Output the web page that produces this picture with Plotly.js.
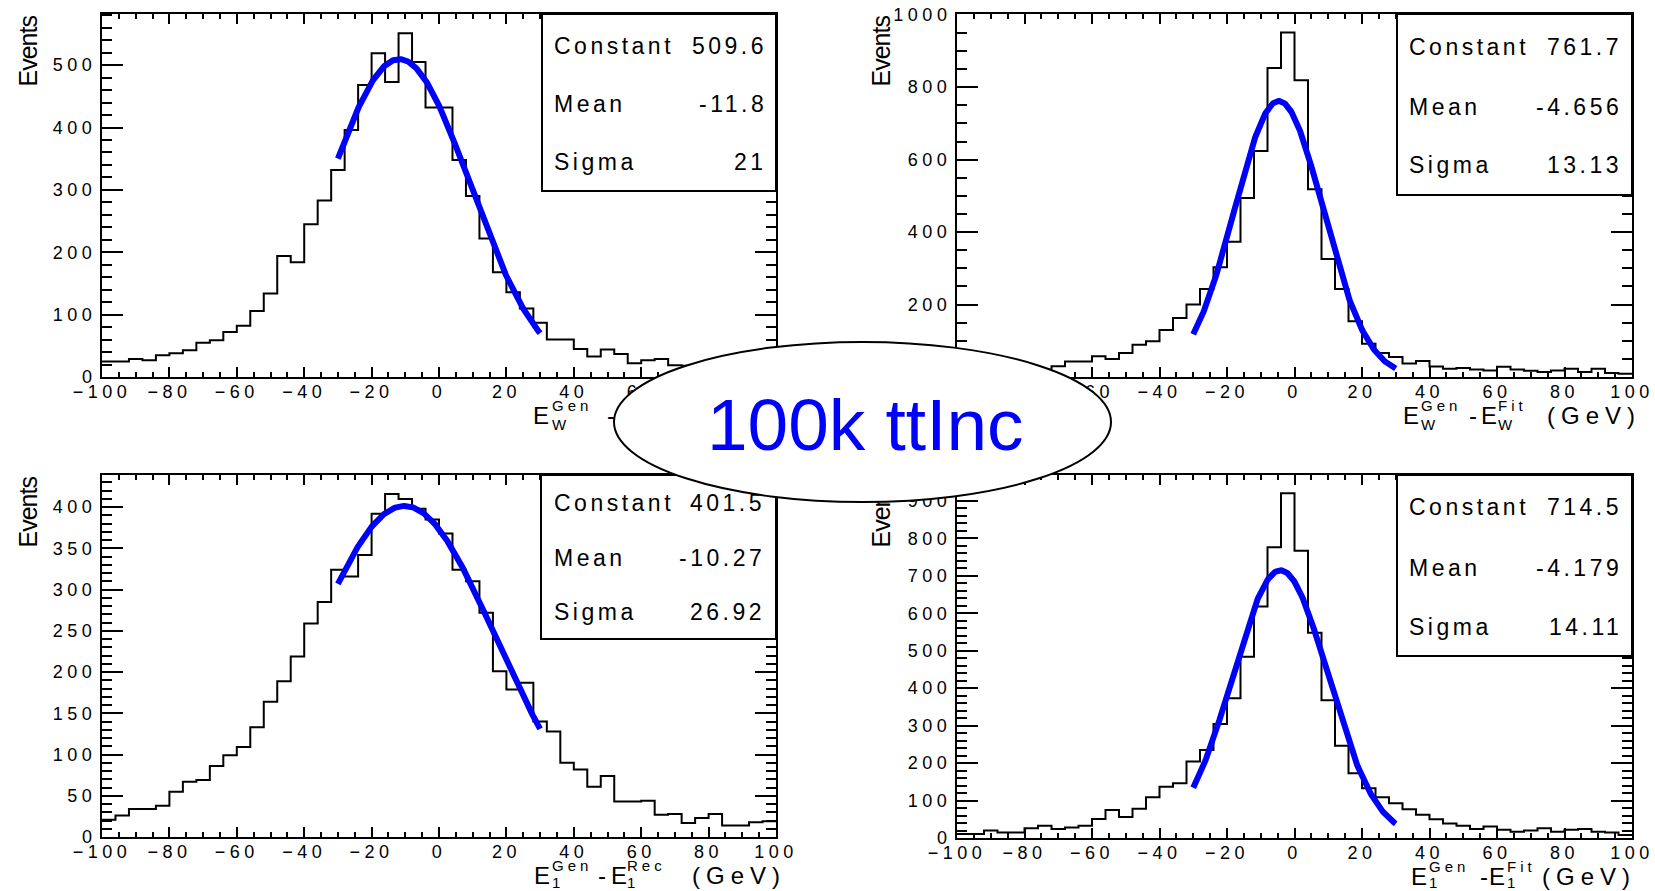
<!DOCTYPE html>
<html>
<head>
<meta charset="utf-8">
<script src="https://cdn.plot.ly/plotly-3.0.1.min.js"></script>
<style>
  html, body { margin: 0; padding: 0; background: #fff; }
  #wrap { position: relative; width: 1655px; height: 891px; overflow: hidden; }
  #main, #badge { position: absolute; left: 0; top: 0; width: 1655px; height: 891px; }
  #badge { pointer-events: none; }
  #main .xaxislayer-above text, #main .yaxislayer-above text { letter-spacing: 4.5px; }
</style>
</head>
<body>
<div id="wrap"><div id="main"></div><div id="badge"></div></div>
<script>
// Binning shared by all four resolution histograms (GeV)
const BIN_LOW = -100;
const BIN_WIDTH = 4;

// Bin contents, 50 bins from -100 to 100 GeV
const countsWRec = [25, 25, 29, 27, 35, 38, 43, 55, 59, 72,
                    82, 106, 134, 194, 184, 245, 283, 332, 396, 468,
                    519, 473, 551, 505, 432, 432, 348, 290, 222, 168,
                    136, 110, 87, 60, 60, 45, 33, 44, 37, 22,
                    27, 29, 19, 18, 16, 15, 13, 14, 12, 11];
const countsWFit = [14, 12, 15, 11, 16, 13, 20, 30, 43, 43,
                    57, 50, 66, 89, 99, 130, 163, 200, 243, 303,
                    373, 494, 624, 853, 951, 819, 518, 326, 243, 154,
                    92, 66, 55, 37, 44, 29, 23, 25, 21, 18,
                    28, 21, 17, 14, 18, 23, 14, 23, 11, 9];
const countsJetRec = [21, 26, 34, 34, 38, 55, 67, 69, 86, 99,
                      109, 133, 164, 189, 219, 259, 285, 324, 316, 342,
                      392, 416, 410, 398, 385, 368, 324, 310, 272, 201,
                      179, 187, 140, 128, 90, 82, 61, 74, 43, 43,
                      44, 27, 28, 17, 23, 28, 14, 14, 18, 19];
const countsJetFit = [11, 11, 20, 15, 15, 26, 33, 24, 28, 33,
                      51, 75, 56, 78, 109, 137, 146, 204, 235, 304,
                      373, 484, 618, 776, 920, 767, 548, 368, 246, 173,
                      133, 109, 93, 77, 62, 50, 39, 33, 24, 31,
                      22, 17, 20, 26, 17, 22, 24, 17, 15, 8];
const histCounts = [countsWRec, countsWFit, countsJetRec, countsJetFit];

// Gaussian fit results shown in the stat boxes
const fitConstant = [509.6, 761.7, 401.5, 714.5];
const fitMean = [-11.8, -4.656, -10.27, -4.179];
const fitSigma = [21, 13.13, 26.92, 14.11];
const fitRange = [-30, 30];
const statNames = ['Constant', 'Mean', 'Sigma'];

// Axis title pieces: E_{sub}^{Gen} - E_{sub}^{reco} (GeV)
const titleSub = ['W', 'W', '1', '1'];
const titleReco = ['Rec', 'Fit', 'Rec', 'Fit'];
const titleUnit = '(GeV)';
const yTitle = 'Events';
const badgeText = '100k ttInc';

// ---------- page geometry ----------
const W = 1655, H = 891;
const FONT = 'Liberation Sans, Arial, Helvetica, sans-serif';
const fx = px => px / W;
const fy = py => 1 - py / H;

const FRAMES = [
  { l: 102, r: 776, t: 14, b: 377 },
  { l: 957, r: 1632, t: 14, b: 377 },
  { l: 102, r: 776, t: 475, b: 837 },
  { l: 957, r: 1632, t: 475, b: 838 }
];
const Y_TOP = [582, 1002, 439, 969];
const Y_MAJOR = [100, 200, 50, 100];
const Y_MINOR = [20, 50, 10, 20];

const STAT_BOX = [
  { l: 542, b: 191, labelX: 553, valueX: 768, rows: [46, 104, 162] },
  { l: 1397, b: 195, labelX: 1408, valueX: 1623, rows: [47, 107, 165] },
  { l: 541, b: 639, labelX: 553, valueX: 766, rows: [503, 558, 612] },
  { l: 1397, b: 656, labelX: 1408, valueX: 1623, rows: [507, 568, 627] }
];

// left edge of each x-axis title and the offsets of its pieces
const TITLE_LAYOUT = [
  { left: 532, gen: 19, dash: 74, e2: 86, reco: 103, unit: 158 },
  { left: 1402, gen: 18, dash: 66, e2: 78, reco: 95, unit: 144 },
  { left: 533, gen: 18, dash: 64, e2: 77, reco: 93, unit: 158 },
  { left: 1410, gen: 18, dash: 69, e2: 78, reco: 96, unit: 131 }
];
const Y_TITLE_X = [27, 880, 27, 880];

const spaced = (t, s) => '<span style="letter-spacing:' + s + 'px">' + t + '</span>';

function label(text, px, py, size, xanchor, yanchor, extra) {
  return Object.assign({
    xref: 'paper', yref: 'paper', x: fx(px), y: fy(py), text: text,
    showarrow: false, xanchor: xanchor, yanchor: yanchor, borderpad: 0,
    font: { family: FONT, size: size, color: '#000' }
  }, extra || {});
}

const edges = histCounts[0].map((_, i) => BIN_LOW + i * BIN_WIDTH).concat([BIN_LOW + histCounts[0].length * BIN_WIDTH]);

const traces = [];
const layout = {
  width: W, height: H,
  margin: { l: 0, r: 0, t: 0, b: 0 },
  paper_bgcolor: '#fff', plot_bgcolor: '#fff',
  showlegend: false,
  shapes: [], annotations: []
};

const fitX = [];
for (let x = fitRange[0]; x <= fitRange[1] + 1e-9; x += 0.25) fitX.push(x);

histCounts.forEach((counts, i) => {
  const sfx = i === 0 ? '' : String(i + 1);
  const xa = 'x' + sfx, ya = 'y' + sfx;
  const f = FRAMES[i];

  // histogram outline as a step line
  traces.push({
    type: 'scatter', mode: 'lines', xaxis: xa, yaxis: ya,
    x: edges, y: counts.concat([counts[counts.length - 1]]),
    line: { shape: 'hv', color: '#000', width: 2 }, hoverinfo: 'skip'
  });
  // gaussian fit over the fit range
  traces.push({
    type: 'scatter', mode: 'lines', xaxis: xa, yaxis: ya,
    x: fitX,
    y: fitX.map(x => fitConstant[i] * Math.exp(-0.5 * Math.pow((x - fitMean[i]) / fitSigma[i], 2))),
    line: { color: '#0000ff', width: 6 }, hoverinfo: 'skip'
  });

  const common = {
    showline: true, linecolor: '#000', linewidth: 2, mirror: 'ticks',
    ticks: 'inside', tickcolor: '#000', tickwidth: 2,
    showgrid: false, zeroline: false, fixedrange: true, tickangle: 0,
    tickfont: { family: FONT, size: 18, color: '#000' }
  };
  layout['xaxis' + sfx] = Object.assign({}, common, {
    anchor: ya, domain: [fx(f.l), fx(f.r)],
    range: [BIN_LOW, BIN_LOW + counts.length * BIN_WIDTH],
    tick0: 0, dtick: 20, ticklen: 10, ticklabelstandoff: -3,
    minor: { ticks: 'inside', ticklen: 5, tickwidth: 2, tickcolor: '#000', dtick: 5, showgrid: false }
  });
  layout['yaxis' + sfx] = Object.assign({}, common, {
    anchor: xa, domain: [fy(f.b), fy(f.t)],
    range: [0, Y_TOP[i]], tick0: 0, dtick: Y_MAJOR[i], ticklen: 21,
    minor: { ticks: 'inside', ticklen: 10, tickwidth: 2, tickcolor: '#000', dtick: Y_MINOR[i], showgrid: false }
  });

  // stat box
  const sb = STAT_BOX[i];
  layout.shapes.push({
    type: 'rect', xref: 'paper', yref: 'paper', layer: 'above',
    x0: fx(sb.l), x1: fx(f.r), y0: fy(sb.b), y1: fy(f.t),
    line: { color: '#000', width: 2 }, fillcolor: '#fff'
  });
  const vals = [fitConstant[i], fitMean[i], fitSigma[i]];
  statNames.forEach((name, k) => {
    layout.annotations.push(label(spaced(name, 3.5), sb.labelX, sb.rows[k], 23, 'left', 'middle'));
    layout.annotations.push(label(spaced(String(vals[k]), 3.5), sb.valueX, sb.rows[k], 23, 'right', 'middle'));
  });

  // y title
  layout.annotations.push(label(spaced(yTitle, -1), Y_TITLE_X[i], f.t + 1, 25, 'center', 'top', { textangle: -90 }));

  // x title built from stacked super/subscripts
  const tl = TITLE_LAYOUT[i];
  const mainY = f.b + 38, supY = f.b + 28, subY = Math.min(f.b + 48, H - 9);
  layout.annotations.push(label('E', tl.left, mainY, 24, 'left', 'middle'));
  layout.annotations.push(label(spaced('Gen', 4), tl.left + tl.gen, supY, 15, 'left', 'middle'));
  layout.annotations.push(label(spaced(titleSub[i], 2), tl.left + tl.gen, subY, 15, 'left', 'middle'));
  layout.annotations.push(label('-', tl.left + tl.dash, mainY, 24, 'left', 'middle'));
  layout.annotations.push(label('E', tl.left + tl.e2, mainY, 24, 'left', 'middle'));
  layout.annotations.push(label(spaced(titleReco[i], 4), tl.left + tl.reco, supY, 15, 'left', 'middle'));
  layout.annotations.push(label(spaced(titleSub[i], 2), tl.left + tl.reco, subY, 15, 'left', 'middle'));
  layout.annotations.push(label(spaced(titleUnit, 6), tl.left + tl.unit, mainY, 24, 'left', 'middle'));
});

Plotly.newPlot('main', traces, layout, { staticPlot: true, displayModeBar: false });

// sample label drawn in an ellipse across the middle of the page
const badgeLayout = {
  width: W, height: H,
  margin: { l: 0, r: 0, t: 0, b: 0 },
  paper_bgcolor: 'rgba(0,0,0,0)', plot_bgcolor: 'rgba(0,0,0,0)',
  xaxis: { visible: false }, yaxis: { visible: false },
  shapes: [{
    type: 'circle', xref: 'paper', yref: 'paper',
    x0: fx(614), x1: fx(1111), y0: fy(502), y1: fy(342),
    line: { color: '#000', width: 2 }, fillcolor: '#fff'
  }],
  annotations: [{
    xref: 'paper', yref: 'paper', x: fx(865), y: fy(425), text: badgeText,
    showarrow: false, xanchor: 'center', yanchor: 'middle', borderpad: 0,
    font: { family: FONT, size: 73, color: '#0000ff' }
  }]
};
Plotly.newPlot('badge', [], badgeLayout, { staticPlot: true, displayModeBar: false });
</script>
</body>
</html>
